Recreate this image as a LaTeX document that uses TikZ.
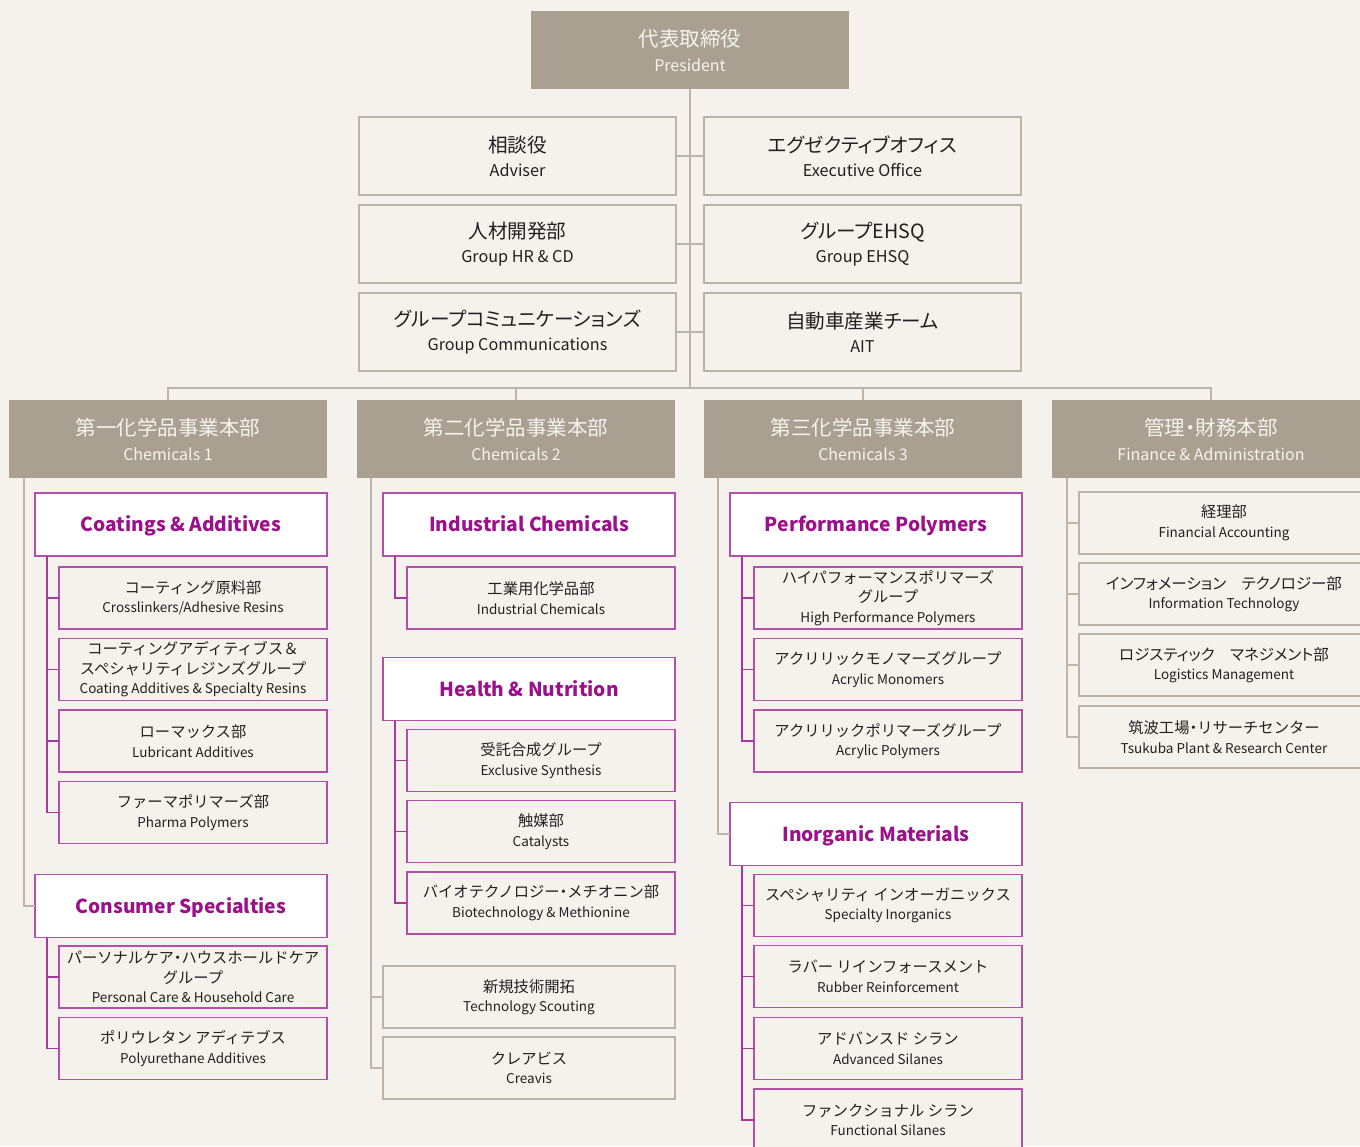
\documentclass[tikz,border=0pt]{standalone}
\usepackage{fontspec}
\setmainfont{Noto Sans CJK JP}
\newfontfamily\jpf{Noto Sans CJK JP}[RawFeature=+palt]
\definecolor{bgc}{HTML}{F5F2EE}
\definecolor{hdrc}{HTML}{A9A091}
\definecolor{hdrtxt}{HTML}{F6F3EE}
\definecolor{grayb}{HTML}{BBB3A8}
\definecolor{grayl}{HTML}{BDB5AA}
\definecolor{magb}{HTML}{B44FAA}
\definecolor{magl}{HTML}{A8389E}
\definecolor{magt}{HTML}{9B1189}
\definecolor{txt}{HTML}{231F20}
\newcommand\jhdr[1]{{\jpf\fontsize{20.5}{25}\selectfont #1}}
\newcommand\jstaff[1]{{\jpf\fontsize{19.6}{24}\selectfont #1}}
\newcommand\jsub[1]{{\fontsize{15.3}{19.5}\selectfont #1}}
\newcommand\jsubp[1]{{\jpf\fontsize{15.5}{19.5}\selectfont #1}}
\newcommand\ndot{{\jpf ・}}
\tikzset{
 base/.style={inner sep=0pt, outer sep=0pt, align=center},
 hdr/.style={base, fill=hdrc, text=hdrtxt, minimum width=318, minimum height=78, font=\fontsize{16}{25}\selectfont},
 staff/.style={base, draw=grayb, fill=bgc, line width=1.3pt, minimum width=317, minimum height=78, text=txt, font=\fontsize{16.2}{24}\selectfont},
 grp/.style={base, draw=magb, fill=white, line width=1.3pt, minimum width=292, minimum height=63, text=magt, text height=16, text depth=2, font=\bfseries\fontsize{19.2}{24}\selectfont},
 subbox/.style={base, draw=magb, fill=bgc, line width=1.3pt, minimum width=268, minimum height=62, text=txt, font=\fontsize{13.5}{19.5}\selectfont},
 gsub/.style={subbox, draw=grayb, minimum width=292},
 fsub/.style={subbox, draw=grayb, minimum width=290},
 gl/.style={draw=grayl, line width=1.5pt},
 ml/.style={draw=magl, line width=1.5pt},
}
\begin{document}
\begin{tikzpicture}[x=1pt,y=-1pt]
\clip (0,0) rectangle (1360,1146);
\fill[bgc] (0,0) rectangle (1360,1146);

% president
\node[hdr] (pres) at (690,50) {\jhdr{代表取締役}\\President};

% staff
\node[staff] (adv) at (517.5,156) {\jstaff{相談役}\\Adviser};
\node[staff] (exo) at (862.5,156) {\jstaff{エグゼクティブオフィス}\\Executive Office};
\node[staff] (hr)  at (517.5,244) {\jstaff{人材開発部}\\Group HR \& CD};
\node[staff] (ehs) at (862.5,244) {\jstaff{グループEHSQ}\\Group EHSQ};
\node[staff] (gc)  at (517.5,332) {\jstaff{グループコミュニケーションズ}\\Group Communications};
\node[staff] (ait) at (862.5,332) {\jstaff{自動車産業チーム}\\AIT};

% divisions
\node[hdr] (d1) at (168,439) {\jhdr{第一化学品事業本部}\\Chemicals 1};
\node[hdr] (d2) at (516,439) {\jhdr{第二化学品事業本部}\\Chemicals 2};
\node[hdr] (d3) at (863,439) {\jhdr{第三化学品事業本部}\\Chemicals 3};
\node[hdr] (d4) at (1211,439) {\jhdr{管理・財務本部}\\Finance \& Administration};

% Chemicals 1
\node[grp] (cad) at (181,524.5) {Coatings \& Additives};
\node[subbox] (c11) at (193,598) {\jsub{コーティング原料部}\\Crosslinkers/Adhesive Resins};
\node[subbox] (c12) at (193,669.5) {\jsub{コーティングアディティブス＆}\\\jsub{スペシャリティレジンズグループ}\\Coating Additives \& Specialty Resins};
\node[subbox] (c13) at (193,741) {\jsub{ローマックス部}\\Lubricant Additives};
\node[subbox] (c14) at (193,812.5) {\jsub{ファーマポリマーズ部}\\Pharma Polymers};
\node[grp] (csp) at (181,906) {Consumer Specialties};
\node[subbox] (c15) at (193,977) {\jsub{パーソナルケア\ndot ハウスホールドケア}\\\jsub{グループ}\\Personal Care \& Household Care};
\node[subbox] (c16) at (193,1048.5) {\jsub{ポリウレタン アディテブス}\\Polyurethane Additives};

% Chemicals 2
\node[grp] (ich) at (529,524.5) {Industrial Chemicals};
\node[subbox] (c21) at (541,598) {\jsub{工業用化学品部}\\Industrial Chemicals};
\node[grp] (hn) at (529,689) {Health \& Nutrition};
\node[subbox] (c22) at (541,760.5) {\jsub{受託合成グループ}\\Exclusive Synthesis};
\node[subbox] (c23) at (541,831.5) {\jsub{触媒部}\\Catalysts};
\node[subbox] (c24) at (541,903) {\jsub{バイオテクノロジー\ndot メチオニン部}\\Biotechnology \& Methionine};
\node[gsub] (tsc) at (529,997) {\jsub{新規技術開拓}\\Technology Scouting};
\node[gsub] (cre) at (529,1068) {\jsub{クレアビス}\\Creavis};

% Chemicals 3
\node[grp] (pp) at (876,524.5) {Performance Polymers};
\node[subbox] (c31) at (888,598) {\jsub{ハイパフォーマンスポリマーズ}\\\jsub{グループ}\\High Performance Polymers};
\node[subbox] (c32) at (888,669.5) {\jsub{アクリリックモノマーズグループ}\\Acrylic Monomers};
\node[subbox] (c33) at (888,741) {\jsub{アクリリックポリマーズグループ}\\Acrylic Polymers};
\node[grp] (inm) at (876,834) {Inorganic Materials};
\node[subbox] (c34) at (888,905.5) {\jsub{スペシャリティ インオーガニックス}\\Specialty Inorganics};
\node[subbox] (c35) at (888,976.5) {\jsub{ラバー リインフォースメント}\\Rubber Reinforcement};
\node[subbox] (c36) at (888,1048.5) {\jsub{アドバンスド シラン}\\Advanced Silanes};
\node[subbox] (c37) at (888,1120) {\jsub{ファンクショナル シラン}\\Functional Silanes};

% Finance & Administration
\node[fsub] (f1) at (1224,523) {\jsub{経理部}\\Financial Accounting};
\node[fsub] (f2) at (1224,594) {\jsubp{インフォメーション　テクノロジー部}\\Information Technology};
\node[fsub] (f3) at (1224,665) {\jsubp{ロジスティック　マネジメント部}\\Logistics Management};
\node[fsub] (f4) at (1224,737) {\jsub{筑波工場\ndot リサーチセンター}\\Tsukuba Plant \& Research Center};

% connectors: top
\coordinate (bus) at (690,388);
\draw[gl] (pres.south) -- (bus);
\draw[gl] (adv.east) -- (exo.west);
\draw[gl] (hr.east) -- (ehs.west);
\draw[gl] (gc.east) -- (ait.west);
\draw[gl] (d1.north) -- (d1.north |- bus) -- (d4.north |- bus) -- (d4.north);
\draw[gl] (d2.north) -- (d2.north |- bus);
\draw[gl] (d3.north) -- (d3.north |- bus);

% division spines
\draw[gl] ([xshift=15pt]d1.south west) |- (csp.west);
\draw[gl] ([xshift=14pt]d2.south west) |- (cre.west);
\draw[gl] (tsc.west) -- ++(-12,0);
\draw[gl] ([xshift=14pt]d3.south west) |- (inm.west);
\draw[gl] ([xshift=15pt]d4.south west) |- (f4.west);
\draw[gl] (f1.west) -- ++(-12,0);
\draw[gl] (f2.west) -- ++(-12,0);
\draw[gl] (f3.west) -- ++(-12,0);

% group spines
\draw[ml] ([xshift=12pt]cad.south west) |- (c14.west);
\foreach \n in {c11,c12,c13} \draw[ml] (\n.west) -- ++(-12,0);
\draw[ml] ([xshift=12pt]csp.south west) |- (c16.west);
\draw[ml] (c15.west) -- ++(-12,0);
\draw[ml] ([xshift=12pt]ich.south west) |- (c21.west);
\draw[ml] ([xshift=12pt]hn.south west) |- (c24.west);
\foreach \n in {c22,c23} \draw[ml] (\n.west) -- ++(-12,0);
\draw[ml] ([xshift=12pt]pp.south west) |- (c33.west);
\foreach \n in {c31,c32} \draw[ml] (\n.west) -- ++(-12,0);
\draw[ml] ([xshift=12pt]inm.south west) |- (c37.west);
\foreach \n in {c34,c35,c36} \draw[ml] (\n.west) -- ++(-12,0);
\end{tikzpicture}
\end{document}
